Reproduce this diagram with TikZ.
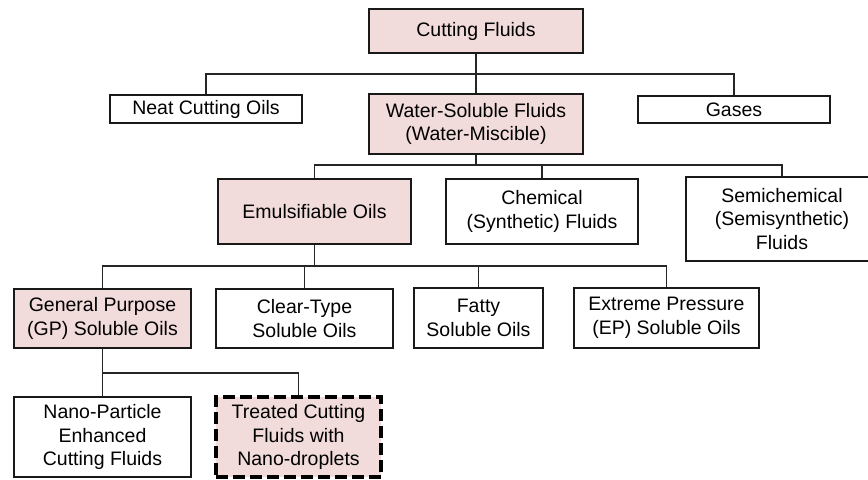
\documentclass[tikz,border=0pt]{standalone}
\usepackage{fontspec}
\setmainfont{Liberation Sans}
\definecolor{pinkfill}{HTML}{F2DCDB}
\tikzset{
  box/.style={draw=black!90, line width=0.75pt, inner sep=0pt, align=center,
    font=\fontsize{9.75}{11.85}\selectfont, text=black},
  pinkbox/.style={box, fill=pinkfill},
  dashbox/.style={pinkbox, draw=black, line width=1.6pt, dash pattern=on 6pt off 2.5pt},
  link/.style={draw=black!85, line width=0.55pt},
}
\begin{document}
\begin{tikzpicture}[x=0.5pt,y=-0.5pt]
\clip (0,0) rectangle (868,479);
% level 0
\node[pinkbox, minimum width=107pt, minimum height=22pt] (cf) at (476,31) {Cutting Fluids};
% level 1
\node[box, minimum width=96pt, minimum height=14pt] (neat) at (206,109) {Neat Cutting Oils};
\node[pinkbox, minimum width=107pt, minimum height=30pt] (water) at (476,124) {Water-Soluble Fluids\\(Water-Miscible)};
\node[box, minimum width=96pt, minimum height=13.5pt] (gases) at (734,109.5) {Gases};
% level 2
\node[pinkbox, minimum width=96.5pt, minimum height=32.5pt] (emul) at (314.5,211.5) {Emulsifiable Oils};
\node[box, minimum width=96pt, minimum height=32.5pt] (chem) at (542,211.5) {Chemical\\(Synthetic) Fluids};
\node[box, minimum width=96pt, minimum height=42pt] (semi) at (782,219) {Semichemical\\(Semisynthetic)\\Fluids};
% level 3
\node[pinkbox, minimum width=88.5pt, minimum height=29.5pt] (gp) at (102.5,318.5) {General Purpose\\(GP) Soluble Oils};
\node[box, minimum width=88.5pt, minimum height=29.5pt] (clear) at (304.5,318.5) {Clear-Type\\Soluble Oils};
\node[box, minimum width=64.5pt, minimum height=30pt] (fatty) at (478.5,318) {Fatty\\Soluble Oils};
\node[box, minimum width=92.5pt, minimum height=30pt] (ep) at (666.5,318) {Extreme Pressure\\(EP) Soluble Oils};
% level 4
\node[box, minimum width=88.5pt, minimum height=40pt] (nano) at (102.5,437) {Nano-Particle\\Enhanced\\Cutting Fluids};
\node[dashbox, minimum width=82.5pt, minimum height=40pt] (treated) at (298.5,437) {Treated Cutting\\Fluids with\\Nano-droplets};
% bus levels
\coordinate (b1) at (0,74);
\coordinate (b2) at (0,165);
\coordinate (b3) at (0,266);
\coordinate (b4) at (0,373);
% connectors level 0 -> 1
\draw[link] (cf.south) -- (cf.south |- b1);
\draw[link] (neat.north) -- (neat.north |- b1) -- (gases.north |- b1) -- (gases.north);
\draw[link] (water.north) -- (water.north |- b1);
% level 1 -> 2
\draw[link] (water.south) -- (water.south |- b2);
\draw[link] (emul.north) -- (emul.north |- b2) -- (semi.north |- b2) -- (semi.north);
\draw[link] (chem.north) -- (chem.north |- b2);
% level 2 -> 3
\draw[link] (emul.south) -- (emul.south |- b3);
\draw[link] (gp.north) -- (gp.north |- b3) -- (ep.north |- b3) -- (ep.north);
\draw[link] (clear.north) -- (clear.north |- b3);
\draw[link] (fatty.north) -- (fatty.north |- b3);
% level 3 -> 4
\draw[link] (gp.south) -- (gp.south |- b4);
\draw[link] (nano.north) -- (nano.north |- b4) -- (treated.north |- b4) -- (treated.north);
\end{tikzpicture}
\end{document}
